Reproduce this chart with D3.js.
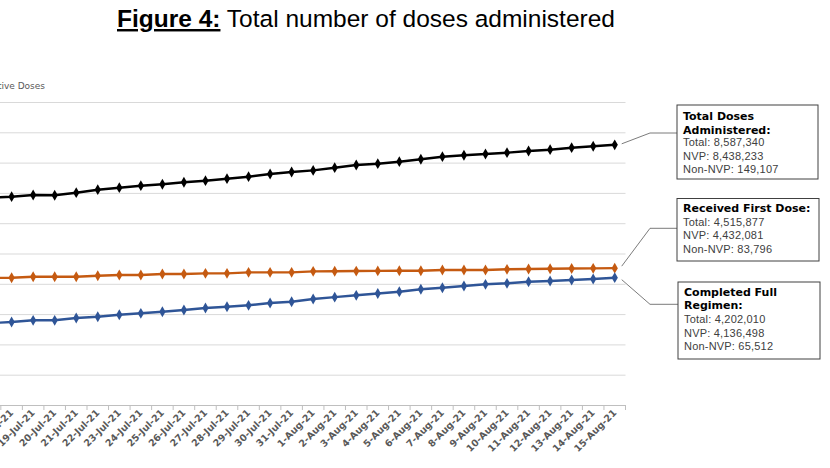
<!DOCTYPE html>
<html><head><meta charset="utf-8">
<script src="https://cdn.jsdelivr.net/npm/d3@7/dist/d3.min.js"></script>
<style>
body{margin:0;background:#fff;}
svg{display:block;}
</style></head>
<body><svg id="c" width="830" height="468"></svg>
<script>
// ---- data ----
const dates = ["17-Jul-21","18-Jul-21","19-Jul-21","20-Jul-21","21-Jul-21","22-Jul-21","23-Jul-21","24-Jul-21","25-Jul-21","26-Jul-21","27-Jul-21","28-Jul-21","29-Jul-21","30-Jul-21","31-Jul-21","1-Aug-21","2-Aug-21","3-Aug-21","4-Aug-21","5-Aug-21","6-Aug-21","7-Aug-21","8-Aug-21","9-Aug-21","10-Aug-21","11-Aug-21","12-Aug-21","13-Aug-21","14-Aug-21","15-Aug-21"];
const totalDoses = [6.84,6.875,6.931,6.921,7.007,7.106,7.172,7.238,7.284,7.350,7.403,7.469,7.535,7.624,7.690,7.743,7.832,7.921,7.964,8.030,8.109,8.195,8.241,8.284,8.327,8.383,8.426,8.492,8.538,8.587340];
const firstDose = [4.19,4.201,4.234,4.234,4.234,4.267,4.290,4.290,4.323,4.323,4.345,4.345,4.378,4.378,4.378,4.411,4.415,4.420,4.425,4.432,4.432,4.455,4.455,4.455,4.478,4.488,4.498,4.505,4.510,4.515877];
const fullRegimen = [2.70,2.739,2.795,2.795,2.871,2.914,2.980,3.026,3.079,3.135,3.201,3.244,3.290,3.366,3.409,3.498,3.560,3.620,3.680,3.739,3.820,3.870,3.927,3.983,4.016,4.069,4.092,4.125,4.158,4.202010];
const yTicks = [0,1,2,3,4,5,6,7,8,9,10]; // millions
const seriesNames = ["Total Doses Administered","Received First Dose","Completed Full Regimen"];
const seriesColors = ["#000000","#c55a11","#2f5597"];
const calloutHeads = [["Total Doses","Administered:"],["Received First Dose:"],["Completed Full","Regimen:"]];
const calloutLines = [["Total: 8,587,340","NVP: 8,438,233","Non-NVP: 149,107"],["Total: 4,515,877","NVP: 4,432,081","Non-NVP: 83,796"],["Total: 4,202,010","NVP: 4,136,498","Non-NVP: 65,512"]];
const titleBold = "Figure 4:";
const titleRest = " Total number of doses administered";
const yTitle = "Cumulative Doses";

// ---- layout ----
const svg = d3.select("#c");
const step = 21.54;
const right = 625.5;
const x = d3.scaleBand().domain(dates).range([right - step*dates.length, right]).padding(0);
const y = d3.scaleLinear().domain([0,10]).range([405,102]);

// title
const t = svg.append("text").attr("x",117).attr("y",27)
  .style("font-family","'Liberation Sans',Arial,sans-serif").style("font-size","24.5px").attr("fill","#000");
t.append("tspan").text(titleBold).style("font-weight","bold").style("text-decoration","underline");
t.append("tspan").text(titleRest);

// y title
svg.append("text").attr("x",45).attr("y",89).attr("text-anchor","end")
  .style("font-family","'DejaVu Sans',sans-serif").style("font-size","9px").attr("fill","#595959").text(yTitle);

// gridlines
const g = svg.append("g");
g.append("g").attr("transform",`translate(${x.range()[0]},0)`)
  .call(d3.axisLeft(y).tickValues(yTicks.slice(1)).tickSize(-(x.range()[1]-x.range()[0])).tickFormat(""))
  .call(s=>{s.select(".domain").remove(); s.selectAll(".tick line").attr("stroke","#d9d9d9").attr("stroke-width",1);});

// x axis
const xa = g.append("g").attr("transform","translate(0,405)")
  .call(d3.axisBottom(x).tickSize(0).tickPadding(0));
xa.select(".domain").attr("stroke","#bfbfbf");
// tick marks between categories
xa.selectAll(".sep").data(dates).enter().append("line").attr("class","sep")
  .attr("x1",d=>x(d)+x.bandwidth()).attr("x2",d=>x(d)+x.bandwidth()).attr("y1",0).attr("y2",5).attr("stroke","#bfbfbf");
xa.selectAll(".tick text")
  .attr("transform","translate(0,6) rotate(-45)")
  .attr("text-anchor","end").attr("dy","0.35em").attr("x",0).attr("y",0)
  .style("font-family","'DejaVu Sans',sans-serif").style("font-size","9.5px").style("font-weight","600").attr("fill","#595959");

// series
const allSeries = [totalDoses, firstDose, fullRegimen];
const cx = d => x(d) + x.bandwidth()/2;
allSeries.forEach((vals,i)=>{
  const pts = dates.map((d,j)=>[cx(d), y(vals[j])]);
  g.append("path").datum(pts).attr("fill","none").attr("stroke",seriesColors[i]).attr("stroke-width",2.4)
    .attr("d",d3.line());
  g.selectAll(".m"+i).data(pts).enter().append("path")
    .attr("transform",p=>`translate(${p[0]},${p[1]})`)
    .attr("d",d3.symbol(d3.symbolDiamond,34)).attr("fill",seriesColors[i]);
});

// callouts
const boxes = [
  {x:677,y:105,w:141,h:74, ly:133, textY:[119.5,133.5], valY:[146,159.5,173]},
  {x:677,y:198.5,w:142,h:62.5, ly:228.3, textY:[212], valY:[225.5,239,252.5]},
  {x:678,y:282,w:142,h:77, ly:304.3, textY:[295.5,309], valY:[323,336.5,350]}
];
const lastX = cx(dates[dates.length-1]);
boxes.forEach((b,i)=>{
  const vals = allSeries[i];
  const ex = lastX + 7, ey = y(vals[vals.length-1]) + (i===0?-1:(i===1?-2:2));
  svg.append("polyline").attr("points",`${ex},${ey} ${650},${b.ly} ${b.x},${b.ly}`)
    .attr("fill","none").attr("stroke","#595959").attr("stroke-width",0.8);
  svg.append("rect").attr("x",b.x).attr("y",b.y).attr("width",b.w).attr("height",b.h)
    .attr("fill","#fff").attr("stroke","#404040").attr("stroke-width",1);
  calloutHeads[i].forEach((s,k)=>{
    svg.append("text").attr("x",b.x+6).attr("y",b.textY[k]).text(s)
      .style("font-family","'DejaVu Sans',sans-serif").style("font-size","11px").style("font-weight","bold").attr("fill","#000");
  });
  calloutLines[i].forEach((s,k)=>{
    svg.append("text").attr("x",b.x+6).attr("y",b.valY[k]).text(s)
      .style("font-family","'Liberation Sans',Arial,sans-serif").style("font-size","11px").style("letter-spacing","0.2px").attr("fill","#404040");
  });
});
</script></body></html>
